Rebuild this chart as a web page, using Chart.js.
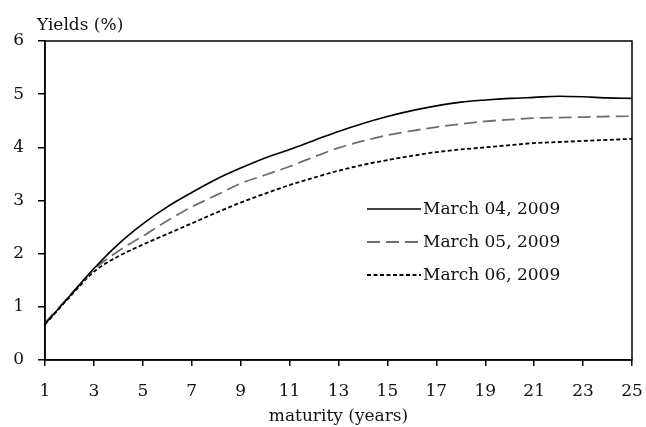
<!DOCTYPE html>
<html lang="en">
<head>
    <meta charset="UTF-8">
    <title>Yields by maturity</title>
    <script src="https://cdn.jsdelivr.net/npm/chart.js"></script>
    <style>
        html, body { margin: 0; padding: 0; background: #fff; }
        #wrap { width: 646px; height: 427px; }
    </style>
</head>
<body>
    <div id="wrap"><canvas id="myChart" width="646" height="427"></canvas></div>
    <script>
        // maturities (years)
        const maturities = [1, 2, 3, 4, 5, 6, 7, 8, 9, 10, 11, 12, 13, 14, 15, 16, 17, 18, 19, 20, 21, 22, 23, 24, 25];
        const seriesNames = ['March 04, 2009', 'March 05, 2009', 'March 06, 2009'];
        const march04 = [0.68, 1.2, 1.72, 2.18, 2.56, 2.88, 3.15, 3.4, 3.61, 3.8, 3.96, 4.13, 4.3, 4.45, 4.58, 4.69, 4.78, 4.85, 4.89, 4.92, 4.94, 4.96, 4.95, 4.93, 4.92];
        const march05 = [0.7, 1.2, 1.7, 2.05, 2.33, 2.62, 2.88, 3.1, 3.32, 3.48, 3.64, 3.82, 3.99, 4.12, 4.23, 4.31, 4.38, 4.44, 4.49, 4.52, 4.55, 4.56, 4.57, 4.58, 4.59];
        const march06 = [0.67, 1.18, 1.66, 1.95, 2.17, 2.37, 2.57, 2.77, 2.96, 3.13, 3.29, 3.43, 3.56, 3.67, 3.76, 3.84, 3.91, 3.96, 4.0, 4.04, 4.08, 4.1, 4.12, 4.14, 4.16];

        const FONT = "'DejaVu Serif', serif";

        function toPoints(values) {
            return maturities.map((m, i) => ({ x: m, y: values[i] }));
        }

        // frame round the plot + "Yields (%)" label + legend inside the plot
        const extras = {
            id: 'extras',
            afterDraw(chart) {
                const ctx = chart.ctx;
                const a = chart.chartArea;
                ctx.save();
                ctx.strokeStyle = '#000';
                ctx.lineWidth = 1.5;
                ctx.strokeRect(a.left, a.top, a.right - a.left, a.bottom - a.top);

                ctx.fillStyle = '#111';
                ctx.font = '17px ' + FONT;
                ctx.textBaseline = 'alphabetic';
                ctx.textAlign = 'left';
                ctx.fillText('Yields (%)', 37, 30);

                // legend
                const ds = chart.data.datasets;
                ds.forEach((d, i) => {
                    const y = 209 + i * 33;
                    ctx.beginPath();
                    ctx.strokeStyle = d.borderColor;
                    ctx.lineWidth = d.borderWidth;
                    ctx.setLineDash(d.borderDash || []);
                    ctx.moveTo(367, y);
                    ctx.lineTo(421, y);
                    ctx.stroke();
                    ctx.setLineDash([]);
                    ctx.fillStyle = '#111';
                    ctx.textBaseline = 'middle';
                    ctx.fillText(d.label, 423, y + 1);
                });
                ctx.restore();
            }
        };

        const ctx = document.getElementById('myChart').getContext('2d');
        new Chart(ctx, {
            type: 'line',
            data: {
                datasets: [
                    { label: seriesNames[0], data: toPoints(march04), borderColor: '#000', borderWidth: 1.6, pointRadius: 0, cubicInterpolationMode: 'monotone' },
                    { label: seriesNames[1], data: toPoints(march05), borderColor: '#6e6e6e', borderWidth: 1.8, borderDash: [13, 6], pointRadius: 0, cubicInterpolationMode: 'monotone' },
                    { label: seriesNames[2], data: toPoints(march06), borderColor: '#000', borderWidth: 1.8, borderDash: [4, 2.5], pointRadius: 0, cubicInterpolationMode: 'monotone' }
                ]
            },
            options: {
                responsive: false,
                animation: false,
                layout: { padding: { top: 41, right: 14, left: 0, bottom: 0 } },
                plugins: {
                    legend: { display: false },
                    tooltip: { enabled: false }
                },
                scales: {
                    x: {
                        type: 'linear',
                        min: 1,
                        max: 25,
                        afterFit(scale) {
                            scale.height = 67;
                            scale.paddingLeft = 0;
                            scale.paddingRight = 0;
                        },
                        ticks: { stepSize: 2, color: '#111', font: { family: FONT, size: 17 }, padding: 15, maxRotation: 0, minRotation: 0 },
                        grid: { display: true, drawOnChartArea: false, drawTicks: true, tickLength: 6, color: '#000', lineWidth: 1.5 },
                        border: { display: true, color: '#000', width: 1.5 },
                        title: { display: true, text: 'maturity (years)', color: '#111', font: { family: FONT, size: 17 }, padding: { top: 0, bottom: 0 } }
                    },
                    y: {
                        min: 0,
                        max: 6,
                        afterFit(scale) {
                            scale.width = 45;
                            scale.paddingTop = 0;
                            scale.paddingBottom = 0;
                        },
                        ticks: { stepSize: 1, color: '#111', font: { family: FONT, size: 17 }, padding: 14 },
                        grid: { display: true, drawOnChartArea: false, drawTicks: true, tickLength: 7, color: '#000', lineWidth: 1.5 },
                        border: { display: true, color: '#000', width: 1.5 }
                    }
                }
            },
            plugins: [extras]
        });
    </script>
</body>
</html>
